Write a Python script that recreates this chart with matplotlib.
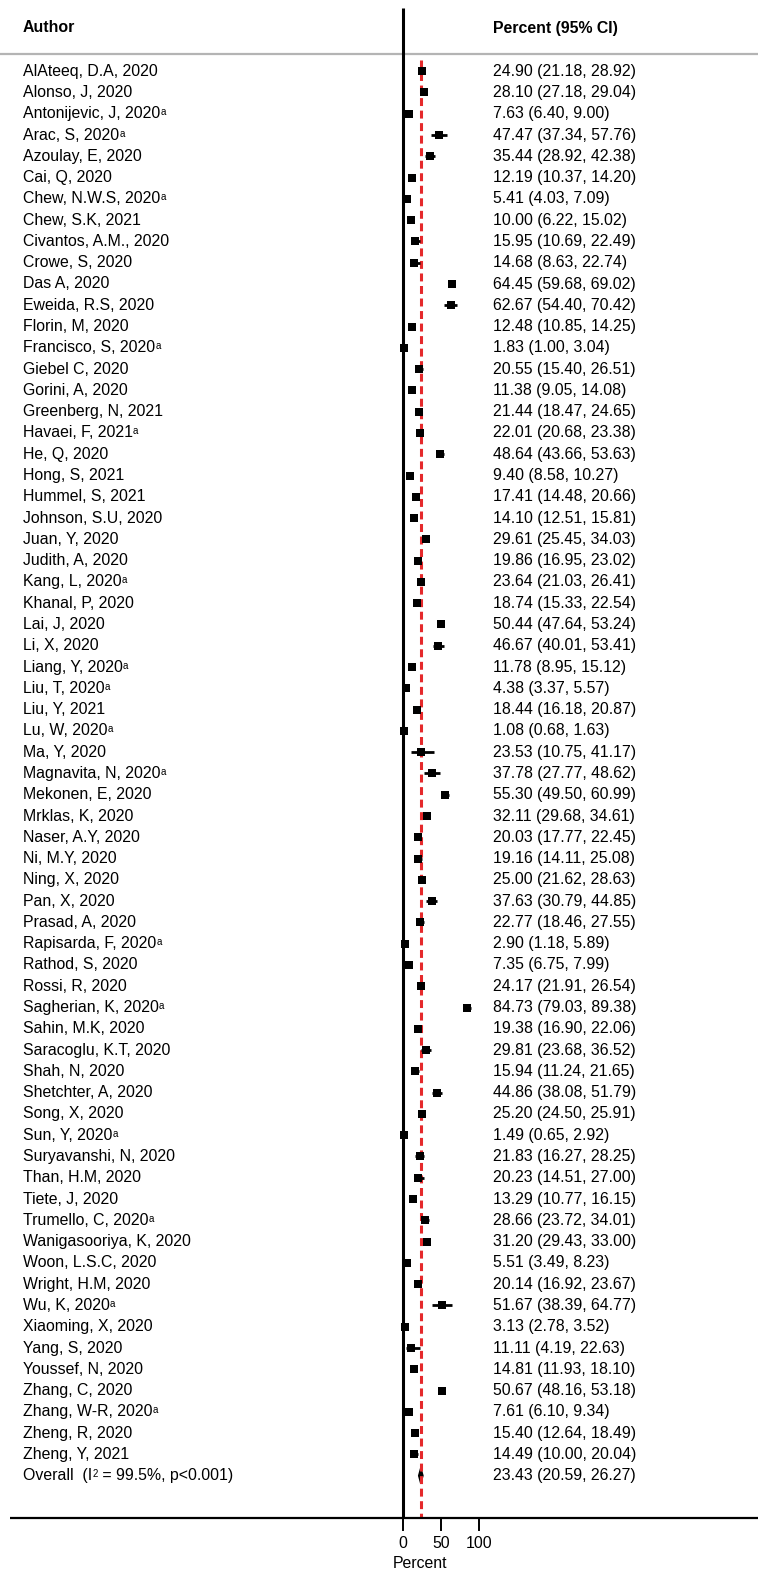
import matplotlib
matplotlib.use("Agg")
import numpy as np
import matplotlib.pyplot as plt
from matplotlib.patches import Polygon
from matplotlib.transforms import blended_transform_factory

plt.rcParams['font.family'] = ['Liberation Sans', 'DejaVu Sans']

# study data: prevalence (%) with 95% CI
authors = [
    "AlAteeq, D.A, 2020", "Alonso, J, 2020", "Antonijevic, J, 2020", "Arac, S, 2020",
    "Azoulay, E, 2020", "Cai, Q, 2020", "Chew, N.W.S, 2020", "Chew, S.K, 2021",
    "Civantos, A.M., 2020", "Crowe, S, 2020", "Das A, 2020", "Eweida, R.S, 2020",
    "Florin, M, 2020", "Francisco, S, 2020", "Giebel C, 2020", "Gorini, A, 2020",
    "Greenberg, N, 2021", "Havaei, F, 2021", "He, Q, 2020", "Hong, S, 2021",
    "Hummel, S, 2021", "Johnson, S.U, 2020", "Juan, Y, 2020", "Judith, A, 2020",
    "Kang, L, 2020", "Khanal, P, 2020", "Lai, J, 2020", "Li, X, 2020",
    "Liang, Y, 2020", "Liu, T, 2020", "Liu, Y, 2021", "Lu, W, 2020",
    "Ma, Y, 2020", "Magnavita, N, 2020", "Mekonen, E, 2020", "Mrklas, K, 2020",
    "Naser, A.Y, 2020", "Ni, M.Y, 2020", "Ning, X, 2020", "Pan, X, 2020",
    "Prasad, A, 2020", "Rapisarda, F, 2020", "Rathod, S, 2020", "Rossi, R, 2020",
    "Sagherian, K, 2020", "Sahin, M.K, 2020", "Saracoglu, K.T, 2020", "Shah, N, 2020",
    "Shetchter, A, 2020", "Song, X, 2020", "Sun, Y, 2020", "Suryavanshi, N, 2020",
    "Than, H.M, 2020", "Tiete, J, 2020", "Trumello, C, 2020", "Wanigasooriya, K, 2020",
    "Woon, L.S.C, 2020", "Wright, H.M, 2020", "Wu, K, 2020", "Xiaoming, X, 2020",
    "Yang, S, 2020", "Youssef, N, 2020", "Zhang, C, 2020", "Zhang, W-R, 2020",
    "Zheng, R, 2020", "Zheng, Y, 2021",
]
# studies marked with footnote "a"
footnote = {"Antonijevic, J, 2020", "Arac, S, 2020", "Chew, N.W.S, 2020", "Francisco, S, 2020",
            "Havaei, F, 2021", "Kang, L, 2020", "Liang, Y, 2020", "Liu, T, 2020",
            "Lu, W, 2020", "Magnavita, N, 2020", "Rapisarda, F, 2020", "Sagherian, K, 2020",
            "Sun, Y, 2020", "Trumello, C, 2020", "Wu, K, 2020", "Zhang, W-R, 2020"}

est = [24.90, 28.10, 7.63, 47.47, 35.44, 12.19, 5.41, 10.00, 15.95, 14.68, 64.45, 62.67,
       12.48, 1.83, 20.55, 11.38, 21.44, 22.01, 48.64, 9.40, 17.41, 14.10, 29.61, 19.86,
       23.64, 18.74, 50.44, 46.67, 11.78, 4.38, 18.44, 1.08, 23.53, 37.78, 55.30, 32.11,
       20.03, 19.16, 25.00, 37.63, 22.77, 2.90, 7.35, 24.17, 84.73, 19.38, 29.81, 15.94,
       44.86, 25.20, 1.49, 21.83, 20.23, 13.29, 28.66, 31.20, 5.51, 20.14, 51.67, 3.13,
       11.11, 14.81, 50.67, 7.61, 15.40, 14.49]
lo = [21.18, 27.18, 6.40, 37.34, 28.92, 10.37, 4.03, 6.22, 10.69, 8.63, 59.68, 54.40,
      10.85, 1.00, 15.40, 9.05, 18.47, 20.68, 43.66, 8.58, 14.48, 12.51, 25.45, 16.95,
      21.03, 15.33, 47.64, 40.01, 8.95, 3.37, 16.18, 0.68, 10.75, 27.77, 49.50, 29.68,
      17.77, 14.11, 21.62, 30.79, 18.46, 1.18, 6.75, 21.91, 79.03, 16.90, 23.68, 11.24,
      38.08, 24.50, 0.65, 16.27, 14.51, 10.77, 23.72, 29.43, 3.49, 16.92, 38.39, 2.78,
      4.19, 11.93, 48.16, 6.10, 12.64, 10.00]
hi = [28.92, 29.04, 9.00, 57.76, 42.38, 14.20, 7.09, 15.02, 22.49, 22.74, 69.02, 70.42,
      14.25, 3.04, 26.51, 14.08, 24.65, 23.38, 53.63, 10.27, 20.66, 15.81, 34.03, 23.02,
      26.41, 22.54, 53.24, 53.41, 15.12, 5.57, 20.87, 1.63, 41.17, 48.62, 60.99, 34.61,
      22.45, 25.08, 28.63, 44.85, 27.55, 5.89, 7.99, 26.54, 89.38, 22.06, 36.52, 21.65,
      51.79, 25.91, 2.92, 28.25, 27.00, 16.15, 34.01, 33.00, 8.23, 23.67, 64.77, 3.52,
      22.63, 18.10, 53.18, 9.34, 18.49, 20.04]

pooled = [23.43, 20.59, 26.27]
i2 = 99.5
ticks = [0, 50, 100]

W, H = 758, 1572
x0, scale = 403, 0.76       # pixel of x=0 and pixels per percent
fs = 11.4
fs_sup = 7.0

fig = plt.figure(figsize=(W / 100, H / 100), dpi=100)
ax = fig.add_axes([0, 0, 1, 1])
ax.set_xlim(-x0 / scale, (W - x0) / scale)
ax.set_ylim(H, 0)
ax.axis('off')
tr = blended_transform_factory(ax.transAxes, ax.transData)

n = len(authors)
rows = 71.2 + 21.28 * np.arange(n + 1)
y_axis = 1518


def sup(after, s, y):
    # small raised character placed right after another text artist
    return ax.annotate(s, xy=(1, y + 1.5), xycoords=(after, 'data'),
                       fontsize=fs_sup, ha='left', va='baseline')


# headers and separator
ax.text(23 / W, 28, "Author", transform=tr, fontsize=fs, fontweight='bold', va='center')
ax.text(493 / W, 28, "Percent (95% CI)", transform=tr, fontsize=fs, fontweight='bold', va='center')
ax.plot([0, 1], [54, 54], transform=tr, color='#b4b4b4', lw=1.6, solid_capstyle='butt')

# study rows
for i, a in enumerate(authors):
    t = ax.text(23 / W, rows[i], a, transform=tr, fontsize=fs, va='center')
    if a in footnote:
        sup(t, "a", rows[i])
    ax.text(493 / W, rows[i], f"{est[i]:.2f} ({lo[i]:.2f}, {hi[i]:.2f})",
            transform=tr, fontsize=fs, va='center')

ax.hlines(rows[:n], lo, hi, color='black', lw=2.0, zorder=3)
ax.plot(est, rows[:n], 's', color='black', ms=6.3, mew=0, zorder=3)

# overall row
yo = rows[n]
t = ax.text(23 / W, yo, "Overall  (I", transform=tr, fontsize=fs, va='center')
s2 = sup(t, "2", yo)
ax.annotate(f" = {i2}%, p<0.001)", xy=(1, yo), xycoords=(s2, 'data'),
            fontsize=fs, ha='left', va='center')
ax.text(493 / W, yo, f"{pooled[0]:.2f} ({pooled[1]:.2f}, {pooled[2]:.2f})",
        transform=tr, fontsize=fs, va='center')

# null line, pooled diamond and pooled estimate line
ax.plot([0, 0], [8, y_axis], color='black', lw=2.2, solid_capstyle='butt')
ax.add_patch(Polygon([(pooled[1], yo), (pooled[0], yo - 8), (pooled[2], yo), (pooled[0], yo + 8)],
                     closed=True, facecolor='black', edgecolor='black', lw=1.0, zorder=1.5))
ax.plot([pooled[0], pooled[0]], [60, y_axis], color='#e5292b', lw=2.2,
        dashes=(2.6, 1.5), zorder=2)

# x axis
ax.plot([10 / W, 1], [y_axis, y_axis], transform=tr, color='black', lw=1.6, solid_capstyle='butt')
for tk in ticks:
    ax.plot([tk, tk], [y_axis, y_axis + 12], color='black', lw=1.4)
    ax.text(tk, 1543, str(tk), fontsize=fs, ha='center', va='center')
ax.text(22, 1563, "Percent", fontsize=fs, ha='center', va='center')

fig.savefig("out.png", dpi=100)
